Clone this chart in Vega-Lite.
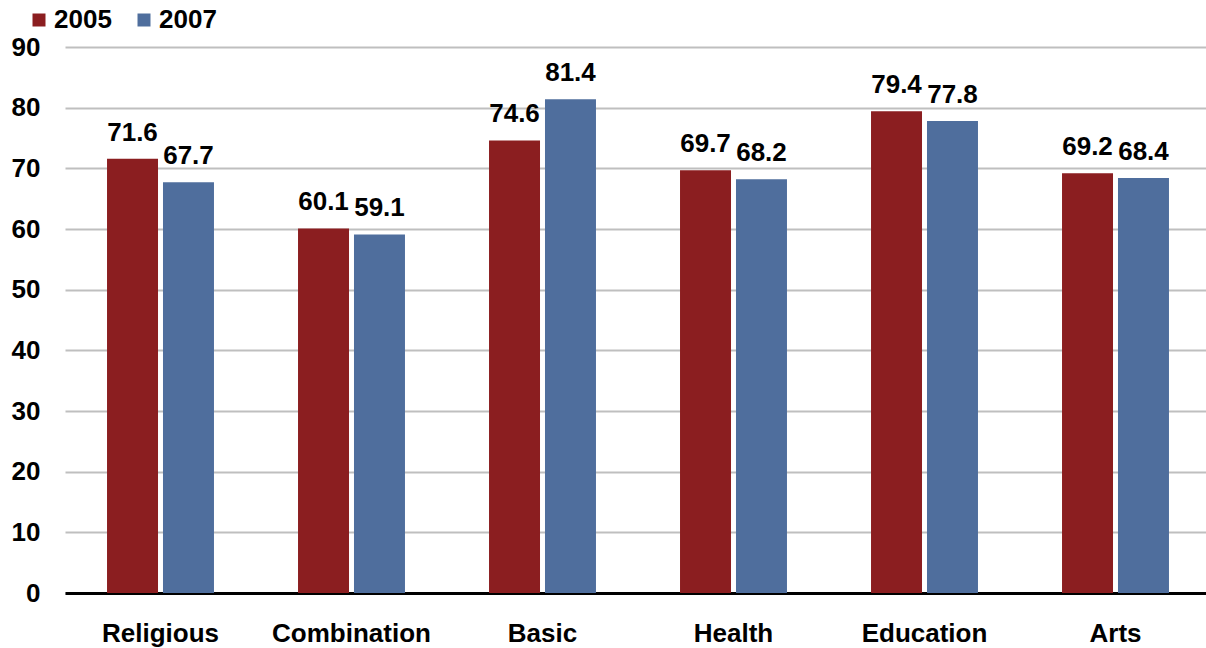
{
  "$schema": "https://vega.github.io/schema/vega-lite/v6.json",
  "autosize": "none",
  "width": 1141,
  "height": 546,
  "padding": {"left": 65, "top": 47, "right": 0, "bottom": 55},
  "background": "white",
  "config": {
    "view": {"stroke": null},
    "font": "Liberation Sans"
  },
  "data": {
    "values": [
      {"category": "Religious", "year": "2005", "value": 71.6},
      {"category": "Religious", "year": "2007", "value": 67.7},
      {"category": "Combination", "year": "2005", "value": 60.1},
      {"category": "Combination", "year": "2007", "value": 59.1},
      {"category": "Basic", "year": "2005", "value": 74.6},
      {"category": "Basic", "year": "2007", "value": 81.4},
      {"category": "Health", "year": "2005", "value": 69.7},
      {"category": "Health", "year": "2007", "value": 68.2},
      {"category": "Education", "year": "2005", "value": 79.4},
      {"category": "Education", "year": "2007", "value": 77.8},
      {"category": "Arts", "year": "2005", "value": 69.2},
      {"category": "Arts", "year": "2007", "value": 68.4}
    ]
  },
  "encoding": {
    "x": {
      "field": "category",
      "type": "nominal",
      "sort": null,
      "scale": {"paddingInner": 0.44, "paddingOuter": 0.22, "range": [0, 1146]},
      "axis": {
        "title": null,
        "labelAngle": 0,
        "labelFont": "Liberation Sans",
        "labelFontWeight": "bold",
        "labelFontSize": 26,
        "labelColor": "black",
        "labelPadding": 27,
        "ticks": false,
        "domainColor": "black",
        "domainWidth": 3
      }
    },
    "xOffset": {
      "field": "year",
      "type": "nominal",
      "scale": {"paddingInner": 0.089, "paddingOuter": 0}
    },
    "y": {
      "field": "value",
      "type": "quantitative",
      "scale": {"domain": [0, 90], "nice": false},
      "axis": {
        "title": null,
        "values": [0, 10, 20, 30, 40, 50, 60, 70, 80, 90],
        "labelFont": "Liberation Sans",
        "labelFontWeight": "bold",
        "labelFontSize": 26,
        "labelColor": "black",
        "labelPadding": 25,
        "ticks": false,
        "domain": false,
        "gridColor": "#BFBFBF",
        "gridWidth": 2
      }
    }
  },
  "layer": [
    {
      "mark": {"type": "bar"},
      "encoding": {
        "color": {
          "field": "year",
          "type": "nominal",
          "scale": {"domain": ["2005", "2007"], "range": ["#8B1E20", "#4F6E9D"]},
          "legend": {
            "title": null,
            "orient": "none",
            "legendX": -39,
            "legendY": -40,
            "direction": "horizontal",
            "symbolType": "square",
            "symbolSize": 169,
            "symbolStrokeWidth": 0,
            "labelFont": "Liberation Sans",
            "labelFontWeight": "bold",
            "labelFontSize": 26,
            "labelColor": "black",
            "labelOffset": 2,
            "columnPadding": 19,
            "padding": 0
          }
        }
      }
    },
    {
      "mark": {
        "type": "text",
        "baseline": "alphabetic",
        "dy": -18,
        "font": "Liberation Sans",
        "fontWeight": "bold",
        "fontSize": 26,
        "color": "black"
      },
      "encoding": {
        "text": {"field": "value", "type": "quantitative", "format": ".1f"}
      }
    }
  ]
}
